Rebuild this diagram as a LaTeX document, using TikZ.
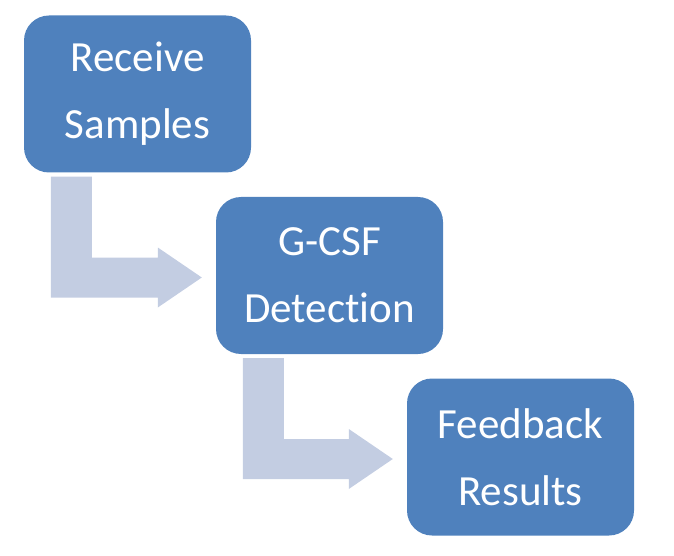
\documentclass[tikz,border=0pt]{standalone}
\usepackage{fontspec}
\setmainfont{Carlito}[Ligatures=NoCommon]
\usepackage{tikz}
\usetikzlibrary{calc}

\definecolor{boxblue}{HTML}{4F81BD}
\definecolor{arrowgrey}{HTML}{C3CDE2}

\tikzset{
    stepbox/.style={fill=boxblue, rounded corners=25pt, minimum width=227pt,
        minimum height=157pt, text=white, align=center,
        font=\fontsize{43}{67}\selectfont},
    bentfill/.style={fill=arrowgrey}
}

% bent arrow from under one box to the left side of the next
\newcommand{\bentarrow}[2]{%
    \fill[bentfill] let \p1=(#1.south west), \p2=(#2.west) in
        (\x1+27pt,\y1-4pt) -- (\x1+68pt,\y1-4pt) -- (\x1+68pt,\y2+18pt)
        -- (\x2-58pt,\y2+18pt) -- (\x2-58pt,\y2+28pt) -- (\x2-14pt,\y2-2pt)
        -- (\x2-58pt,\y2-32pt) -- (\x2-58pt,\y2-22pt) -- (\x1+27pt,\y2-22pt) -- cycle;}

\begin{document}
\begin{tikzpicture}[x=1pt,y=1pt]
    \useasboundingbox (0,0) rectangle (674,555);
    % Caixes
    \node[stepbox] (receive) at (137.5,461) {Receive\\Samples};
    \node[stepbox] (detect) at (329.5,279.5) {G-CSF\\Detection};
    \node[stepbox] (feedback) at (520.5,98) {Feedback\\Results};
    % Fletxes
    \bentarrow{receive}{detect}
    \bentarrow{detect}{feedback}
\end{tikzpicture}
\end{document}
